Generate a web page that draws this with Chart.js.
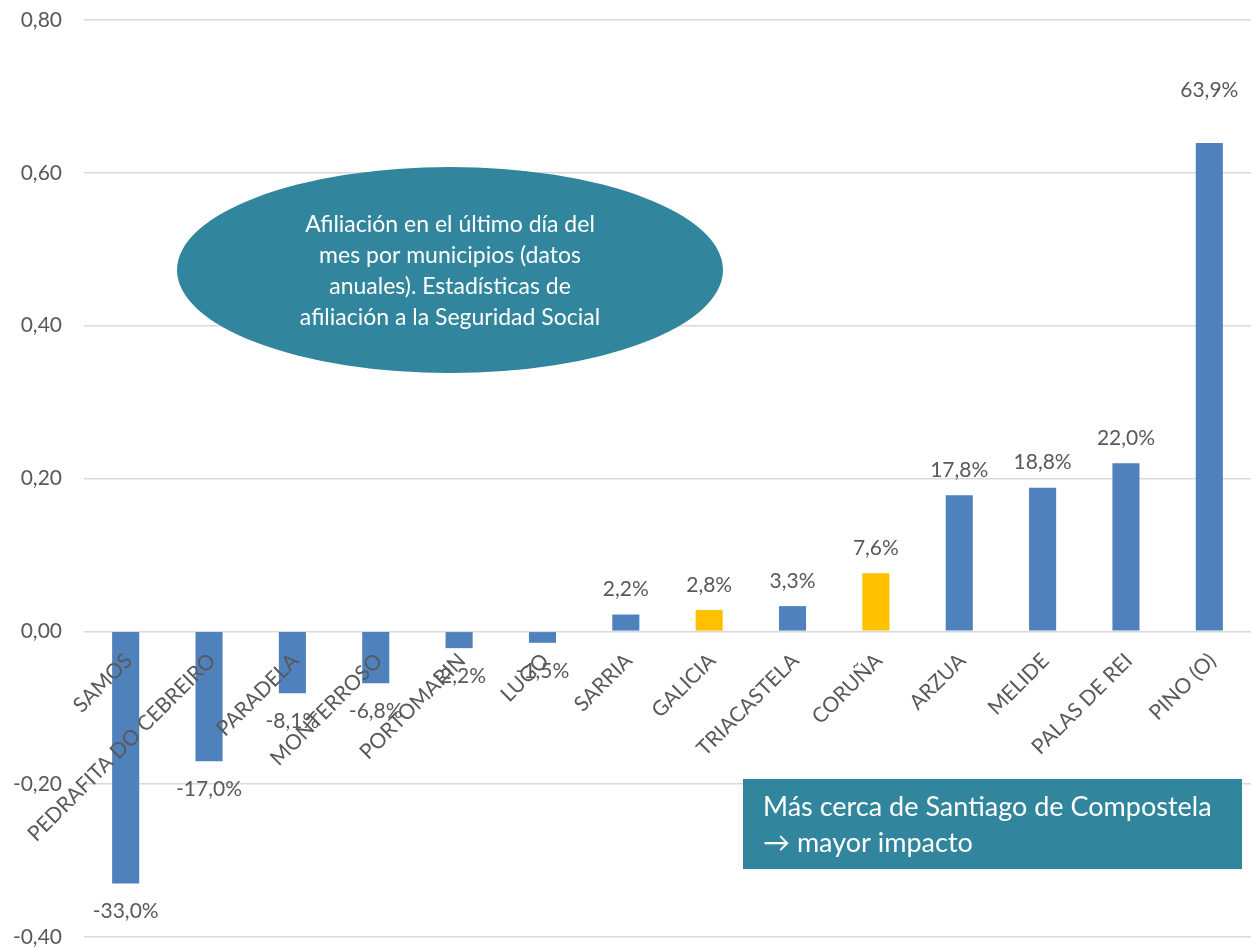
<!DOCTYPE html>
<html>
<head>
<meta charset="utf-8">
<script src="https://cdn.jsdelivr.net/npm/chart.js@4/dist/chart.umd.min.js"></script>
<style>
  html, body { margin: 0; padding: 0; background: #ffffff; }
  #wrap { width: 1251px; height: 947px; position: relative; }
</style>
</head>
<body>
<div id="wrap"><canvas id="c"></canvas></div>
<script>
const categories = ["SAMOS", "PEDRAFITA DO CEBREIRO", "PARADELA", "MONTERROSO", "PORTOMARIN", "LUGO", "SARRIA", "GALICIA", "TRIACASTELA", "CORUÑA", "ARZUA", "MELIDE", "PALAS DE REI", "PINO (O)"];
const values = [-0.330, -0.170, -0.081, -0.068, -0.022, -0.015, 0.022, 0.028, 0.033, 0.076, 0.178, 0.188, 0.220, 0.639];
const highlighted = ["GALICIA", "CORUÑA"];
const yTicks = [-0.40, -0.20, 0.00, 0.20, 0.40, 0.60, 0.80];
const ellipseText = ["Afiliación en el último día del", "mes por municipios (datos", "anuales). Estadísticas de", "afiliación a la Seguridad Social"];
const boxText = ["Más cerca de Santiago de Compostela", "\u2192 mayor impacto"];

const BLUE = "#4F81BD", YELLOW = "#FFC000", TEAL = "#31859C", GREY = "#595959";
const FONT = "Lato, 'Open Sans', sans-serif";

const fmtPct = v => (v * 100).toFixed(1).replace('.', ',') + '%';

const labelPlugin = {
  id: 'valueLabels',
  afterDatasetsDraw(chart) {
    const ctx = chart.ctx;
    const meta = chart.getDatasetMeta(0);
    ctx.save();
    ctx.font = "21px " + FONT;
    ctx.fillStyle = GREY;
    ctx.textAlign = 'center';
    ctx.textBaseline = 'middle';
    meta.data.forEach((bar, i) => {
      const v = values[i];
      let y;
      if (v >= 0) {
        y = bar.y - (i === values.length - 1 ? 53 : 25);
      } else {
        y = bar.y + 28;
      }
      ctx.fillText(fmtPct(v), bar.x, y);
    });
    ctx.restore();
  }
};

const annotationPlugin = {
  id: 'notes',
  afterDraw(chart) {
    const ctx = chart.ctx;
    ctx.save();
    // ellipse note
    ctx.fillStyle = TEAL;
    ctx.beginPath();
    ctx.ellipse(450, 270, 273, 103, 0, 0, Math.PI * 2);
    ctx.fill();
    ctx.fillStyle = '#ffffff';
    ctx.font = "23px " + FONT;
    ctx.textAlign = 'center';
    ctx.textBaseline = 'middle';
    ellipseText.forEach((t, i) => ctx.fillText(t, 450, 225 + i * 31));
    // rectangle note
    ctx.fillStyle = TEAL;
    ctx.fillRect(743, 779, 499, 90);
    ctx.fillStyle = '#ffffff';
    ctx.font = "27px " + FONT;
    ctx.textAlign = 'left';
    boxText.forEach((t, i) => ctx.fillText(t, 763, 807 + i * 36));
    ctx.restore();
  }
};

new Chart(document.getElementById('c'), {
  type: 'bar',
  data: {
    labels: categories,
    datasets: [{
      data: values,
      backgroundColor: categories.map(c => highlighted.includes(c) ? YELLOW : BLUE),
      barPercentage: 0.65,
      categoryPercentage: 0.5
    }]
  },
  options: {
    responsive: true,
    maintainAspectRatio: false,
    animation: false,
    layout: { padding: { top: 20, bottom: 10, left: 0, right: 0 } },
    plugins: { legend: { display: false }, tooltip: { enabled: false } },
    scales: {
      x: {
        position: { y: 0 },
        afterFit: s => { s.height = 0; s.paddingLeft = 0; s.paddingRight = 0; },
        grid: { display: false, drawTicks: false },
        border: { display: false },
        ticks: {
          z: 1,
          minRotation: 45,
          maxRotation: 45,
          autoSkip: false,
          padding: 17,
          labelOffset: 3,
          color: GREY,
          font: { family: FONT, size: 21 }
        }
      },
      y: {
        min: yTicks[0],
        max: yTicks[yTicks.length - 1],
        afterBuildTicks: s => { s.ticks = yTicks.map(v => ({ value: v })); },
        afterFit: s => { s.width = 84; s.paddingTop = 0; s.paddingBottom = 0; },
        grid: { color: '#D9D9D9', lineWidth: 1.5, drawTicks: false },
        border: { display: false },
        ticks: {
          padding: 22,
          color: GREY,
          font: { family: FONT, size: 21 },
          callback: v => v.toFixed(2).replace('.', ',')
        }
      }
    }
  },
  plugins: [labelPlugin, annotationPlugin]
});
</script>
</body>
</html>
